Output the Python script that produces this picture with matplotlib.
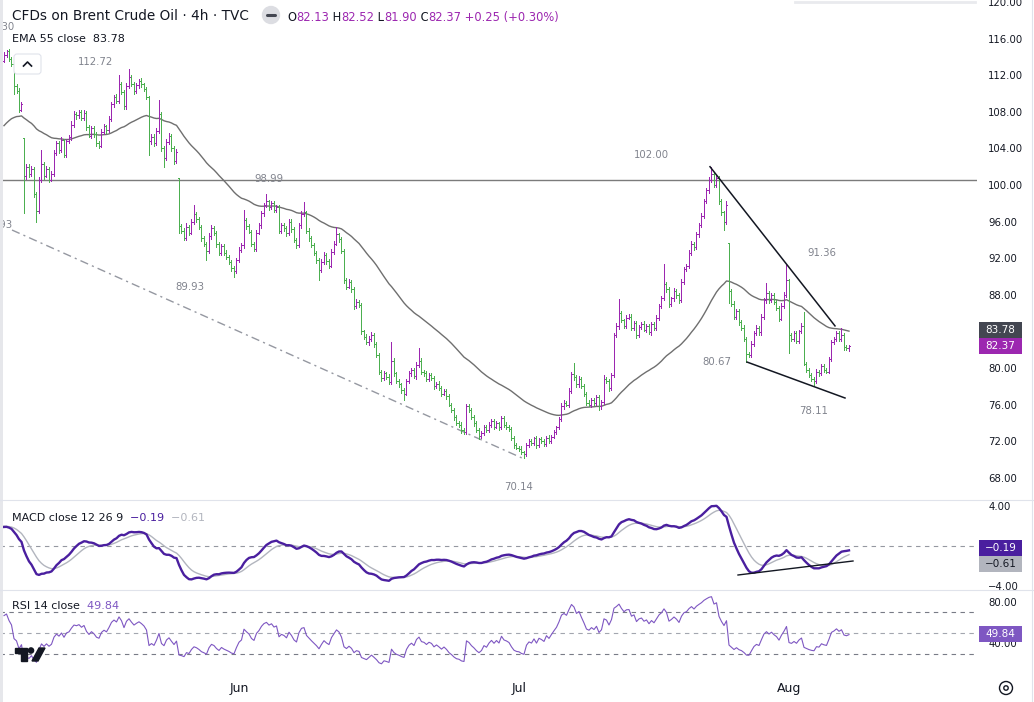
import numpy as np
import matplotlib
matplotlib.use("Agg")
import matplotlib.pyplot as plt
import matplotlib.transforms as mtransforms
from matplotlib.collections import LineCollection
from matplotlib.lines import Line2D
from matplotlib.patches import Rectangle, Circle, Polygon, FancyBboxPatch

W, H = 1034, 702

# 4h closes, one per bar left to right
closes = [
    114.2, 114.6, 113.8, 113.2, 110.8, 110.3, 108.2, 108.9, 101.0, 102.0,
    101.2, 101.8, 99.0, 97.2, 100.5, 102.3, 101.0, 101.8, 100.6, 101.2,
    103.5, 104.6, 103.8, 104.9, 103.3, 104.8, 105.2, 106.6, 107.8, 107.6,
    108.0, 107.3, 107.9, 106.3, 105.4, 106.2, 105.6, 104.6, 104.3, 105.8,
    106.4, 106.0, 107.2, 108.8, 109.6, 109.2, 111.0, 110.2, 108.6, 110.8,
    111.8, 111.0, 110.3, 110.9, 111.4, 111.0, 110.5, 109.6, 104.8, 105.3,
    104.6, 105.9, 107.8, 104.0, 103.0, 104.7, 105.4, 104.0, 102.6, 103.6,
    95.5, 95.0, 94.2, 95.4, 94.8, 96.0, 96.8, 96.3, 95.4, 94.2,
    93.6, 92.8, 94.4, 95.3, 94.8, 93.5, 92.6, 93.3, 92.6, 92.1,
    91.6, 90.9, 90.6, 91.8, 92.9, 93.4, 96.2, 95.5, 94.9, 93.6,
    93.0, 94.8, 95.6, 96.9, 97.8, 98.2, 97.6, 98.0, 97.3, 97.6,
    95.0, 95.6, 95.3, 94.7, 96.0, 95.2, 94.0, 93.4, 95.6, 96.8,
    97.0, 95.0, 94.2, 93.4, 92.6, 91.8, 90.7, 91.6, 92.4, 91.7,
    91.2, 92.7, 93.6, 94.6, 94.1, 92.8, 89.6, 88.9, 89.4, 88.6,
    86.8, 87.2, 86.9, 84.0, 83.4, 82.8, 83.2, 83.6, 82.6, 81.4,
    79.6, 78.9, 79.4, 79.0, 78.5, 80.8, 79.4, 78.6, 78.2, 77.6,
    77.2, 78.6, 79.4, 79.8, 79.1, 80.3, 80.8, 79.6, 79.4, 78.8,
    79.2, 78.9, 78.0, 78.3, 77.8, 77.2, 77.5, 76.9, 76.0, 75.4,
    74.6, 74.0, 73.8, 73.2, 73.0, 75.8, 75.4, 74.6, 74.0, 73.2,
    72.6, 72.9, 73.6, 73.2, 73.8, 74.2, 73.6, 74.0, 73.5, 74.5,
    73.8, 73.6, 73.3, 72.4, 71.6, 71.3, 71.2, 70.8, 70.6, 71.6,
    72.0, 71.8, 72.3, 71.6, 72.2, 72.0, 71.7, 72.4, 72.0, 72.5,
    73.0, 73.5, 74.4, 75.8, 76.2, 76.0, 77.5, 79.3, 79.0, 78.2,
    78.8, 78.0, 77.2, 76.2, 76.0, 76.5, 76.2, 76.8, 75.8, 76.3,
    78.8, 78.6, 77.8, 79.2, 83.6, 84.6, 86.0, 85.2, 84.6, 85.5,
    85.6, 84.4, 84.9, 83.6, 84.5, 84.8, 84.2, 84.6, 83.9, 84.8,
    84.4, 85.5, 86.8, 87.6, 89.2, 88.6, 87.0, 87.6, 88.4, 88.0,
    87.4, 89.4, 90.8, 91.2, 92.6, 93.6, 93.2, 94.6, 95.6, 96.6,
    98.2, 99.4, 100.6, 101.2, 100.0, 100.8, 98.2, 97.0, 96.0, 97.8,
    88.4, 87.0, 85.6, 86.2, 85.0, 84.4, 83.2, 81.5, 81.4, 82.6,
    83.8, 84.4, 83.9, 85.6, 87.4, 88.2, 87.4, 88.0, 87.2, 86.6,
    85.4, 86.8, 88.0, 89.6, 83.6, 83.2, 83.8, 83.0, 84.0, 84.6,
    80.4, 79.8, 79.2, 78.8, 78.6, 79.6, 79.4, 80.2, 79.8, 79.6,
    81.0, 82.8, 83.2, 83.8, 83.2, 83.6, 82.3, 82.13, 82.37,
]

# how far each bar reaches above max(open, close) / below min(open, close)
# (negative = bar gapped away from the previous close)
wick_up = [
    0.3, 0.2, 0.25, 0.15, 0.1, 0.2, 0.3, 0.15, -3.8, 0.25,
    0.25, 0.3, 0.15, 0.2, 0.4, 1.5, 0.2, 0.25, 0.15, 0.3,
    0.3, 0.25, 0.2, 0.35, 0.15, 0.25, 0.3, 0.4, 0.3, 0.2,
    0.2, 0.25, 0.3, 0.15, 0.25, 0.3, 0.2, 0.15, 0.25, 0.3,
    0.25, 0.2, 0.3, 0.25, 0.2, 0.3, 1.0, 0.25, 0.2, 0.3,
    0.9, 0.2, 0.25, 0.3, 0.2, 0.25, 0.15, 0.2, 0.15, 0.3,
    0.25, 0.3, 1.5, 0.2, 0.25, 0.3, 0.25, 0.2, 0.25, 0.3,
    -2.8, 0.25, 0.3, 0.4, 0.2, 0.3, 1.0, 0.25, 0.2, 0.25,
    0.25, 0.2, 0.3, 0.35, 0.25, 0.2, 0.25, 0.3, 0.2, 0.25,
    0.25, 0.2, 0.2, 0.25, 0.3, 0.25, 1.1, 0.2, 0.25, 0.2,
    0.2, 0.25, 0.3, 0.25, 0.2, 0.79, 0.2, 0.25, 0.2, 0.25,
    0.2, 0.3, 0.25, 0.2, 0.3, 0.25, 0.2, 0.25, 0.3, 0.35,
    1.1, 0.2, 0.25, 0.2, 0.25, 0.2, 0.25, 0.3, 0.25, 0.2,
    0.25, 0.3, 0.25, 0.8, 0.2, 0.25, 0.2, 0.25, 0.3, 0.2,
    0.25, 0.3, 0.2, 0.25, 0.2, 0.3, 0.25, 0.3, 0.2, 0.25,
    0.25, 0.2, 0.25, 0.2, 0.3, 2.0, 0.25, 0.2, 0.25, 0.2,
    0.2, 0.25, 0.3, 0.2, 0.25, 0.3, 1.4, 0.25, 0.2, 0.25,
    0.25, 0.2, 0.25, 0.2, 0.25, 0.2, 0.25, 0.2, 0.25, 0.2,
    0.2, 0.25, 0.2, 0.25, 0.2, 0.3, 0.25, 0.2, 0.25, 0.2,
    0.2, 0.25, 0.2, 0.15, 0.25, 0.2, 0.25, 0.2, 0.15, 0.2,
    0.2, 0.25, 0.2, 0.25, 0.2, 0.15, 0.2, 0.25, 0.15, 0.2,
    0.2, 0.25, 0.2, 0.25, 0.2, 0.25, 0.2, 0.15, 0.25, 0.2,
    0.2, 0.15, 0.25, 0.35, 0.25, 0.2, 0.3, 0.25, 1.2, 0.2,
    0.3, 0.2, 0.25, 0.2, 0.25, 0.2, 0.25, 0.2, 0.25, 0.2,
    0.4, 0.25, 0.2, 0.3, 0.2, 0.3, 1.5, 0.25, 0.2, 0.3,
    0.3, 0.25, 0.2, 0.25, 0.2, 0.25, 0.3, 0.2, 0.25, 0.2,
    0.2, 0.25, 0.2, 0.25, 2.2, 0.2, 0.25, 0.2, 0.3, 0.2,
    0.25, 0.3, 0.25, 0.2, 0.35, 0.25, 0.2, 0.3, 0.25, 0.3,
    0.25, 0.3, 0.25, 0.8, 0.2, 0.25, 0.2, 0.25, 0.2, 0.4,
    -4.1, 0.25, 0.3, 0.2, 0.25, 0.2, 0.25, 0.2, 0.25, 0.3,
    0.25, 0.3, 0.2, 0.25, 0.3, 1.1, 0.2, 0.25, 0.2, 0.25,
    0.2, 0.25, 0.3, 1.76, 0.15, 0.25, 0.2, 0.25, 0.2, 0.3,
    1.5, 0.25, 0.2, 0.25, 0.2, 0.25, 0.2, 0.25, 0.2, 0.25,
    0.25, 0.3, 0.2, 0.25, 0.2, 0.8, 0.25, 0.2, 0.15,
]
wick_dn = [
    0.2, 0.25, 0.3, 0.2, 0.8, 0.2, 0.25, 0.15, 4.1, 0.3,
    0.3, 0.2, 0.35, 1.2, 0.25, 0.2, 0.3, 0.15, 0.25, 0.2,
    0.2, 0.25, 0.3, 0.15, 0.2, 0.25, 0.2, 0.3, 0.25, 0.35,
    0.25, 0.2, 0.15, 0.3, 0.2, 0.25, 0.3, 0.35, 0.25, 0.2,
    0.2, 0.3, 0.25, 0.2, 0.3, 0.25, 0.2, 0.3, 0.3, 0.25,
    0.25, 0.2, 0.3, 0.2, 0.25, 0.3, 0.2, 0.25, 1.5, 0.3,
    0.3, 0.2, 0.25, 0.3, 1.0, 0.25, 0.2, 0.3, 0.3, 0.2,
    0.75, 0.2, 0.25, 0.25, 0.3, 0.2, 0.25, 0.3, 0.25, 0.35,
    0.3, 1.0, 0.2, 0.25, 0.3, 0.25, 0.2, 0.25, 0.3, 0.2,
    0.2, 0.3, 0.67, 0.2, 0.25, 0.2, 0.25, 0.3, 0.2, 0.3,
    0.2, 0.25, 0.2, 0.3, 0.25, 0.2, 0.3, 0.2, 0.25, 0.2,
    0.25, 0.2, 0.3, 0.25, 0.2, 0.3, 0.25, 0.3, 0.2, 0.25,
    0.2, 0.25, 0.3, 0.2, 0.25, 0.3, 1.1, 0.2, 0.25, 0.3,
    0.25, 0.2, 0.25, 0.2, 0.3, 0.2, 0.3, 0.25, 0.2, 0.25,
    0.3, 0.2, 0.25, 0.3, 0.25, 0.2, 0.25, 0.2, 0.3, 0.25,
    0.25, 0.3, 0.2, 0.25, 0.2, 0.25, 0.3, 0.2, 0.25, 0.3,
    0.7, 0.2, 0.25, 0.3, 0.2, 0.25, 0.2, 0.3, 0.25, 0.2,
    0.2, 0.25, 0.3, 0.2, 0.25, 0.3, 0.2, 0.25, 0.2, 0.25,
    0.25, 0.2, 0.25, 0.3, 0.25, 0.2, 0.25, 0.2, 0.3, 0.25,
    0.35, 0.2, 0.25, 0.2, 0.25, 0.2, 0.25, 0.2, 0.25, 0.2,
    0.2, 0.25, 0.2, 0.25, 0.3, 0.2, 0.25, 0.2, 0.46, 0.2,
    0.2, 0.25, 0.2, 0.3, 0.2, 0.25, 0.2, 0.25, 0.2, 0.25,
    0.2, 0.25, 0.2, 0.15, 0.25, 0.2, 0.25, 0.2, 0.3, 0.25,
    0.25, 0.2, 0.25, 0.3, 0.2, 0.25, 0.2, 0.25, 0.4, 0.25,
    0.25, 0.2, 0.3, 0.25, 0.2, 0.25, 0.3, 0.2, 0.25, 0.2,
    0.2, 0.25, 0.3, 0.3, 0.2, 0.25, 0.2, 0.25, 0.2, 0.25,
    0.25, 0.2, 0.3, 0.25, 0.2, 0.25, 0.3, 0.2, 0.25, 0.3,
    0.3, 0.2, 0.25, 0.2, 0.25, 0.2, 0.3, 0.2, 0.25, 0.2,
    0.25, 0.2, 0.25, 0.3, 0.2, 0.25, 0.3, 0.25, 0.9, 0.25,
    1.3, 0.25, 0.2, 0.3, 0.25, 0.2, 0.25, 0.85, 0.2, 0.25,
    0.25, 0.2, 0.3, 0.25, 0.2, 0.25, 0.3, 0.2, 0.25, 0.3,
    0.3, 0.2, 0.25, 0.2, 2.0, 0.25, 0.2, 0.25, 0.3, 0.2,
    0.1, 0.25, 0.2, 0.25, 0.49, 0.2, 0.25, 0.2, 0.25, 0.2,
    0.2, 0.25, 0.2, 0.25, 0.2, 0.25, 0.3, 0.2, 0.23,
]
first_open = 113.6

# indicator state at the left edge of the chart (history is off screen)
ema55_start = 106.2
ema12_start, ema26_start, signal_start = 112.4, 110.5, 2.0
rsi_gain_start, rsi_loss_start = 0.40, 0.22

month_bars = [94, 206, 314]
month_labels = ["Jun", "Jul", "Aug"]

level_line = 100.55
fall_line = [(282.4, 102.0), (332.4, 84.6)]
floor_line = [(297.2, 80.65), (336.4, 76.72)]
channel_line = [(3.2, 95.08), (207.2, 70.16)]
macd_trend = [(293.6, -2.9), (339.6, -1.5)]

pivot_labels = [("112.72", 96, 62), ("98.99", 269, 179), ("89.93", 190, 287),
                ("70.14", 519, 487), ("102.00", 651, 155), ("91.36", 822, 253),
                ("80.67", 717, 362), ("78.11", 814, 411)]

UP = "#9c27b0"
DN = "#4caf50"
TXT = "#131722"
GRID = "#e0e3eb"


def ema(values, span, start):
    a = 2.0 / (span + 1)
    out = []
    v = start
    for x in values:
        v = v + a * (x - v)
        out.append(v)
    return np.array(out)


def wilder_rsi(values, period, g0, l0, first):
    diffs = np.diff(np.concatenate([[first], values]))
    g, l = g0, l0
    out = []
    for d in diffs:
        g = (g * (period - 1) + max(d, 0)) / period
        l = (l * (period - 1) + max(-d, 0)) / period
        out.append(100 - 100 / (1 + g / l))
    return np.array(out)


c = np.array(closes)
n = len(c)
prev = np.concatenate([[first_open], c[:-1]])
hi = np.maximum(prev, c) + np.array(wick_up)
lo = np.minimum(prev, c) - np.array(wick_dn)
op = np.clip(prev, lo, hi)

ema55 = ema(c, 55, ema55_start)
macd = ema(c, 12, ema12_start) - ema(c, 26, ema26_start)
signal = ema(macd, 9, signal_start)
rsi = wilder_rsi(c, 14, rsi_gain_start, rsi_loss_start, first_open)
xs = np.arange(n)

fig = plt.figure(figsize=(W / 100, H / 100), dpi=100)
fig.patch.set_facecolor("white")
pix = mtransforms.Affine2D().scale(1.0 / W, -1.0 / H).translate(0, 1) + fig.transFigure


def rect(top, bottom, left=0, right=977):
    return [left / W, 1 - bottom / H, (right - left) / W, (bottom - top) / H]


ax_p = fig.add_axes(rect(0, 498))
ax_m = fig.add_axes(rect(500, 589))
ax_r = fig.add_axes(rect(590, 678))
for ax in (ax_p, ax_m, ax_r):
    ax.set_xlim(-1.6, 389.2)
    ax.set_facecolor("none")
    for s in ax.spines.values():
        s.set_visible(False)
    ax.yaxis.tick_right()
    ax.tick_params(axis="y", length=0, pad=8, labelsize=7.3, labelcolor=TXT)
    ax.tick_params(axis="x", length=0)
    ax.set_xticks([])

# price panel (84.00 sits under the last-value boxes)
ax_p.set_ylim(65.79, 120.22)
ticks = [t for t in range(68, 121, 4) if t != 84]
ax_p.set_yticks(ticks, ["%.2f" % t for t in ticks])

segs, cols = [], []
for i in range(n):
    col = UP if c[i] >= op[i] else DN
    segs += [[(i, lo[i]), (i, hi[i])], [(i - 0.4, op[i]), (i, op[i])],
             [(i, c[i]), (i + 0.4, c[i])]]
    cols += [col] * 3
ax_p.add_collection(LineCollection(segs, colors=cols, linewidths=0.65,
                                   antialiaseds=False, zorder=3))
ax_p.plot(xs, ema55, color="#6f6f6f", lw=1.0, zorder=2)
ax_p.axhline(level_line, color="#7b7b7b", lw=1.0, zorder=1)
for line in (fall_line, floor_line):
    ax_p.plot(*zip(*line), color=TXT, lw=1.1, zorder=4)
ax_p.plot(*zip(*channel_line), color="#9598a1", lw=1.0,
          linestyle=(0, (6, 3, 1.5, 3)), zorder=1)

# MACD panel
ax_m.set_ylim(-4.3, 4.6)
ax_m.set_yticks([-4, 4], ["\u22124.00", "4.00"])
ax_m.axhline(0, color="#9598a1", lw=0.8, linestyle=(0, (4, 4)))
ax_m.plot(xs, signal, color="#b2b5be", lw=1.0)
ax_m.plot(xs, macd, color="#4a1f9f", lw=1.7)
ax_m.plot(*zip(*macd_trend), color=TXT, lw=1.0)

# RSI panel
ax_r.set_ylim(6.1, 91.95)
ax_r.set_yticks([40, 80], ["40.00", "80.00"])
for lvl, col in ((70, "#787b86"), (50, "#a3a6af"), (30, "#787b86")):
    ax_r.axhline(lvl, color=col, lw=0.8, linestyle=(0, (4, 4)))
ax_r.plot(xs, rsi, color="#7e57c2", lw=0.8)
ax_r.set_xticks(month_bars, month_labels)
ax_r.tick_params(axis="x", pad=3, labelsize=9, labelcolor=TXT)

# panel separators and frame bits
for y in (499.5, 589.5):
    fig.add_artist(Line2D([0, W], [y, y], color=GRID, lw=0.8, transform=pix))
fig.add_artist(Rectangle((0, 0), 2.5, H, color="#e6e7eb", lw=0, transform=pix))
fig.add_artist(Line2D([1031.5, 1031.5], [0, H], color=GRID, lw=0.8, transform=pix))
fig.add_artist(Line2D([795, 975], [2, 2], color="#e9eaee", lw=2, transform=pix))

# pivot labels
for s, x, y in pivot_labels:
    fig.text(x, y, s, transform=pix, ha="center", va="center", fontsize=7.3,
             color="#80838d")
for s, x, y in (("117.30", 15, 27), ("95.93", 12.5, 225)):
    ax_p.text(x, y, s, transform=pix, ha="right", va="center", fontsize=7.3,
              color="#80838d", clip_on=True)

# legends
fig.text(12, 16, "CFDs on Brent Crude Oil \u00b7 4h \u00b7 TVC", transform=pix,
         fontsize=9.8, color=TXT, va="center")
fig.add_artist(Circle((271, 15), 8.5, color="#dcdde2", transform=pix))
fig.add_artist(Line2D([267, 275], [15, 15], color="#434651", lw=2.2,
                      solid_capstyle="round", transform=pix))
ohlc = [("O", TXT), ("82.13", UP), (" H", TXT), ("82.52", UP), (" L", TXT),
        ("81.90", UP), (" C", TXT), ("82.37", UP), (" +0.25 (+0.30%)", UP)]
t = fig.text(287, 21, ohlc[0][0], transform=pix, fontsize=8.3, color=ohlc[0][1],
             va="baseline")
for s, col in ohlc[1:]:
    t = ax_p.annotate(s, xy=(1, 0), xycoords=t, va="bottom", fontsize=8.3,
                      color=col, annotation_clip=False)

fig.text(12, 39, "EMA 55 close  83.78", transform=pix, fontsize=8, color=TXT,
         va="center")
fig.add_artist(FancyBboxPatch((14, 54), 27, 20, boxstyle="round,pad=0,rounding_size=3",
                              fc="white", ec=GRID, lw=0.8, transform=pix))
fig.add_artist(Line2D([23.5, 27.5, 31.5], [66, 62, 66], color=TXT, lw=1.2,
                      transform=pix))

t = fig.text(12, 518, "MACD close 12 26 9", transform=pix, fontsize=8, color=TXT,
             va="center")
t = ax_r.annotate("  \u22120.19", xy=(1, 0), xycoords=t, va="bottom", fontsize=8,
                  color="#4a1f9f", annotation_clip=False)
ax_r.annotate("  \u22120.61", xy=(1, 0), xycoords=t, va="bottom", fontsize=8,
              color="#b2b5be", annotation_clip=False)
t = fig.text(12, 606, "RSI 14 close", transform=pix, fontsize=8, color=TXT,
             va="center")
ax_r.annotate("  49.84", xy=(1, 0), xycoords=t, va="bottom", fontsize=8,
              color="#7e57c2", annotation_clip=False)

# last-value boxes on the scales
boxes = [(322, "#434651", "83.78", "white"), (338, UP, "82.37", "white"),
         (540, "#4a1f9f", "\u22120.19", "white"), (556, "#b2b5be", "\u22120.61", TXT),
         (626, "#7e57c2", "49.84", "white")]
for y, fc, s, tc in boxes:
    fig.add_artist(Rectangle((979, y), 43, 16, color=fc, lw=0, transform=pix))
    fig.text(1000.5, y + 8, s, transform=pix, ha="center", va="center",
             fontsize=7.5, color=tc)

# TradingView mark and settings icon
fig.add_artist(Polygon([(15, 648), (27, 648), (27, 661), (21, 661), (21, 653), (15, 653)],
                       color=TXT, transform=pix))
fig.add_artist(Circle((31, 650.5), 2.6, color=TXT, transform=pix))
fig.add_artist(Polygon([(32, 661), (38, 661), (45, 648), (39, 648)], color=TXT,
                       transform=pix))
fig.add_artist(Circle((1006, 688), 6.5, fill=False, ec=TXT, lw=1.0, transform=pix))
fig.add_artist(Circle((1006, 688), 2.2, fill=False, ec=TXT, lw=1.0, transform=pix))

fig.savefig("out.png", dpi=100, facecolor="white")
